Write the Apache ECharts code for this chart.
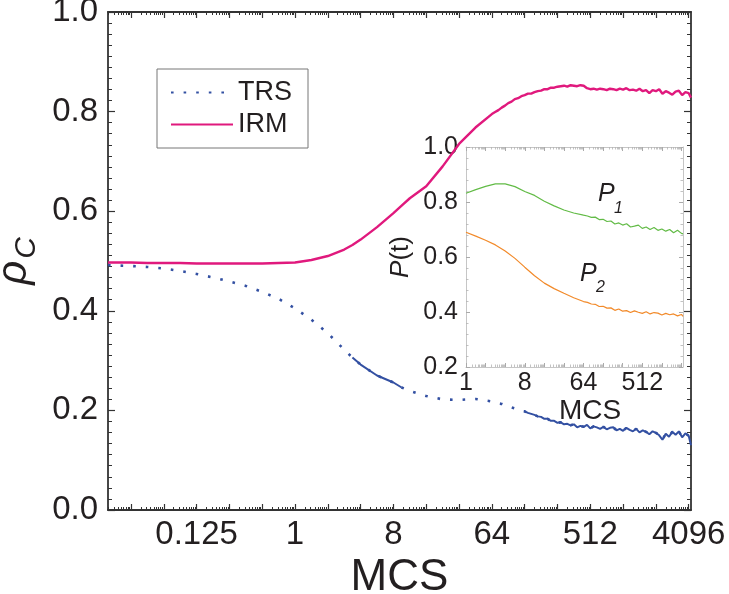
<!DOCTYPE html>
<html><head><meta charset="utf-8">
<script src="https://cdn.jsdelivr.net/npm/echarts@6/dist/echarts.min.js"></script>
<style>html,body{margin:0;padding:0;background:#fff;}#c{width:729px;height:594px;}</style>
</head><body><div id="c"></div>
<script>
// ---------- data ----------
// main panel: MCS given as log2 exponents (MCS = 2^e)
const mainMcsLog2 = [-5.7,-5.5,-5,-4.5,-4,-3.5,-3,-2.5,-2,-1.5,-1,-0.5,0,0.5,1,1.5,1.75,2,2.5,3,3.25,3.5,4,4.5,5,5.5,6,
  6.1,6.2,6.3,6.4,6.5,6.6,6.7,6.8,6.9,7.0,7.1,7.2,7.3,7.4,7.5,7.6,7.7,7.8,7.9,
  8.0,8.1,8.2,8.3,8.4,8.5,8.6,8.7,8.8,8.9,9.0,9.1,9.2,9.3,9.4,9.5,9.6,9.7,9.8,9.9,
  10.0,10.1,10.2,10.3,10.4,10.5,10.6,10.7,10.8,10.9,11.0,11.1,11.2,11.3,11.4,11.5,11.6,11.7,11.8,11.9,12.0,12.07];
const trsValues = [0.492,0.491,0.490,0.488,0.485,0.480,0.474,0.467,0.459,0.450,0.438,0.424,0.405,0.382,0.355,0.322,0.306,0.292,0.270,0.256,0.246,0.239,0.229,0.222,0.221,0.223,0.218,
  0.216,0.214,0.213,0.210,0.209,0.206,0.204,0.202,0.199,0.198,0.195,0.193,0.191,0.188,0.187,0.183,0.183,0.179,0.179,
  0.175,0.176,0.172,0.173,0.170,0.172,0.166,0.169,0.167,0.171,0.164,0.168,0.166,0.163,0.167,0.162,0.165,0.166,0.160,0.163,
  0.159,0.165,0.161,0.158,0.163,0.156,0.160,0.157,0.152,0.158,0.155,0.150,0.141,0.153,0.147,0.157,0.151,0.158,0.146,0.154,0.149,0.130];
const irmValues = [0.497,0.497,0.497,0.496,0.496,0.496,0.495,0.495,0.495,0.495,0.495,0.496,0.497,0.502,0.510,0.523,0.532,0.543,0.568,0.596,0.611,0.626,0.650,0.690,0.735,0.768,0.795,
  0.799,0.803,0.808,0.812,0.817,0.820,0.825,0.827,0.831,0.833,0.836,0.836,0.839,0.841,0.842,0.845,0.845,0.848,0.848,
  0.850,0.851,0.852,0.850,0.853,0.852,0.851,0.853,0.852,0.847,0.845,0.846,0.844,0.846,0.845,0.843,0.846,0.845,0.843,0.846,
  0.844,0.847,0.843,0.844,0.842,0.846,0.841,0.843,0.837,0.843,0.841,0.845,0.836,0.841,0.838,0.834,0.840,0.842,0.833,0.839,0.837,0.828];
// inset: MCS given as log2 exponents
const insetMcsLog2 = [0,0.5,1,1.5,2,2.5,3,3.5,4,4.5,5,5.5,6,
  6.2,6.4,6.6,6.8,7.0,7.2,7.4,7.6,7.8,8.0,8.2,8.4,8.6,8.8,9.0,9.2,9.4,9.6,9.8,10.0,10.2,10.4,10.6,10.8,11.0,11.08];
const p1Values = [0.832,0.845,0.857,0.866,0.866,0.856,0.838,0.824,0.803,0.786,0.771,0.760,0.752,
  0.749,0.744,0.745,0.736,0.737,0.729,0.731,0.720,0.724,0.716,0.721,0.709,0.712,0.716,0.704,0.709,0.700,0.707,0.697,0.702,0.694,0.700,0.688,0.697,0.686,0.684];
const p2Values = [0.690,0.676,0.661,0.644,0.622,0.595,0.563,0.532,0.505,0.485,0.468,0.452,0.438,
  0.435,0.429,0.428,0.420,0.421,0.414,0.415,0.406,0.411,0.403,0.405,0.398,0.404,0.399,0.395,0.401,0.393,0.398,0.396,0.389,0.395,0.390,0.393,0.386,0.391,0.384];
const mainXTickLabels = [0.125, 1, 8, 64, 512, 4096];
const insetXTickLabels = [1, 8, 64, 512];
const seriesNames = ['TRS', 'IRM'];

// ---------- styling / layout ----------
const FONT = "'Liberation Sans', Arial, Helvetica, sans-serif";
const TXT = '#231f20';
const AX = '#333333';
const IAX = '#c6c6c6';
const C_TRS = '#3350a2', C_IRM = '#e0197d', C_P1 = '#62bb46', C_P2 = '#f28a2a';
const MAIN_MIN = Math.pow(2, -5.7), MAIN_MAX = Math.pow(2, 12.07);
const INSET_MIN = 1, INSET_MAX = Math.pow(2, 11.08);

function majors(lo, hi) { const a = []; for (let k = -10; k <= 14; k++) { const v = Math.pow(2, k); if (v >= lo && v <= hi) a.push(v); } return a; }
function minors(lo, hi) { const a = []; for (let k = -10; k <= 14; k++) for (let m = 2; m <= 9; m++) { const v = Math.pow(2, k + Math.log10(m)); if (v > lo && v < hi) a.push(v); } return a; }
const fmtX = v => { const n = Number(v); return n < 1 ? String(+n.toFixed(3)) : String(Math.round(n)); };

function xAxisDef(o) {
  return Object.assign({
    type: 'log', logBase: 2, splitLine: { show: false }, axisPointer: { show: false },
    axisLine: { show: false, onZero: false }, axisLabel: { show: false }, axisTick: { show: false }
  }, o);
}
const pair = (arrX, arrY) => arrX.map((e, i) => [Math.pow(2, e), arrY[i]]);

const mainMaj = majors(MAIN_MIN, MAIN_MAX), mainMin = minors(MAIN_MIN, MAIN_MAX);
const insMaj = majors(INSET_MIN, INSET_MAX), insMin = minors(INSET_MIN, INSET_MAX);

const xAxes = [
  xAxisDef({ gridIndex: 0, position: 'bottom', min: MAIN_MIN, max: MAIN_MAX,
    axisLine: { show: true, onZero: false, lineStyle: { color: AX, width: 1.8 } },
    axisTick: { show: true, inside: true, length: 6, customValues: mainMaj, lineStyle: { color: AX, width: 1.2 } },
    axisLabel: { show: true, customValues: mainXTickLabels, formatter: fmtX, fontSize: 33, margin: 8, color: TXT, fontFamily: FONT },
    name: 'MCS', nameLocation: 'middle', nameGap: 42, nameTextStyle: { fontSize: 44, color: TXT, fontFamily: FONT } }),
  xAxisDef({ gridIndex: 0, position: 'top', min: MAIN_MIN, max: MAIN_MAX,
    axisLine: { show: true, onZero: false, lineStyle: { color: AX, width: 1.8 } },
    axisTick: { show: true, inside: true, length: 6, customValues: mainMaj, lineStyle: { color: AX, width: 1.2 } } }),
  xAxisDef({ gridIndex: 0, position: 'bottom', min: MAIN_MIN, max: MAIN_MAX,
    axisTick: { show: true, inside: true, length: 3, customValues: mainMin, lineStyle: { color: AX, width: 1 } } }),
  xAxisDef({ gridIndex: 0, position: 'top', min: MAIN_MIN, max: MAIN_MAX,
    axisTick: { show: true, inside: true, length: 3, customValues: mainMin, lineStyle: { color: AX, width: 1 } } }),
  xAxisDef({ gridIndex: 1, position: 'bottom', min: INSET_MIN, max: INSET_MAX,
    axisLine: { show: true, onZero: false, lineStyle: { color: IAX, width: 1 } },
    axisTick: { show: true, inside: true, length: 4, customValues: insMaj, lineStyle: { color: '#aaaaaa', width: 1 } },
    axisLabel: { show: true, customValues: insetXTickLabels, formatter: fmtX, fontSize: 25, margin: 4, color: TXT, fontFamily: FONT },
    name: 'MCS', nameLocation: 'middle', nameGap: 27, nameTextStyle: { fontSize: 28, color: TXT, fontFamily: FONT, padding: [0, 0, 0, 31] } }),
  xAxisDef({ gridIndex: 1, position: 'top', min: INSET_MIN, max: INSET_MAX,
    axisLine: { show: true, onZero: false, lineStyle: { color: IAX, width: 1 } },
    axisTick: { show: true, inside: true, length: 4, customValues: insMaj, lineStyle: { color: '#aaaaaa', width: 1 } } }),
  xAxisDef({ gridIndex: 1, position: 'bottom', min: INSET_MIN, max: INSET_MAX,
    axisTick: { show: true, inside: true, length: 2.5, customValues: insMin, lineStyle: { color: '#b4b4b4', width: 0.8 } } }),
  xAxisDef({ gridIndex: 1, position: 'top', min: INSET_MIN, max: INSET_MAX,
    axisTick: { show: true, inside: true, length: 2.5, customValues: insMin, lineStyle: { color: '#b4b4b4', width: 0.8 } } })
];

const yAxes = [
  { type: 'value', gridIndex: 0, position: 'left', min: 0, max: 1, interval: 0.2, splitLine: { show: false },
    axisLine: { show: true, onZero: false, lineStyle: { color: AX, width: 1.8 } },
    axisTick: { show: true, inside: true, length: 7, lineStyle: { color: AX, width: 1.2 } },
    minorTick: { show: true, splitNumber: 9, length: 4, lineStyle: { color: AX, width: 1 } },
    axisLabel: { formatter: v => v.toFixed(1), fontSize: 33, margin: 10, color: TXT, fontFamily: FONT },
    name: '{r|ρ}{s|C}', nameLocation: 'middle', nameRotate: 90, nameGap: 64,
    nameTextStyle: { fontFamily: FONT, color: TXT, rich: {
      r: { fontSize: 42, fontStyle: 'italic', fontFamily: FONT, color: TXT, verticalAlign: 'top', lineHeight: 42 },
      s: { fontSize: 30, fontStyle: 'italic', fontFamily: FONT, color: TXT, verticalAlign: 'top', lineHeight: 30, padding: [18, 0, 0, 2] } } } },
  { type: 'value', gridIndex: 0, position: 'right', min: 0, max: 1, interval: 0.2, splitLine: { show: false },
    axisLine: { show: true, onZero: false, lineStyle: { color: AX, width: 1.8 } },
    axisTick: { show: true, inside: true, length: 7, lineStyle: { color: AX, width: 1.2 } },
    minorTick: { show: true, splitNumber: 9, length: 4, lineStyle: { color: AX, width: 1 } },
    axisLabel: { show: false } },
  { type: 'value', gridIndex: 1, position: 'left', min: 0.2, max: 1.0, interval: 0.2, splitLine: { show: false },
    axisLine: { show: true, onZero: false, lineStyle: { color: IAX, width: 1 } },
    axisTick: { show: true, inside: true, length: 4, lineStyle: { color: '#aaaaaa', width: 1 } },
    minorTick: { show: true, splitNumber: 5, length: 2.5, lineStyle: { color: '#b4b4b4', width: 0.8 } },
    axisLabel: { formatter: v => v.toFixed(1), fontSize: 25, margin: 8, color: TXT, fontFamily: FONT },
    name: '{p|P}{t|(t)}', nameLocation: 'middle', nameRotate: 90, nameGap: 52,
    nameTextStyle: { fontFamily: FONT, color: TXT, rich: {
      p: { fontSize: 26, fontStyle: 'italic', fontFamily: FONT, color: TXT },
      t: { fontSize: 26, fontFamily: FONT, color: TXT } } } },
  { type: 'value', gridIndex: 1, position: 'right', min: 0.2, max: 1.0, interval: 0.2, splitLine: { show: false },
    axisLine: { show: true, onZero: false, lineStyle: { color: IAX, width: 1 } },
    axisTick: { show: true, inside: true, length: 4, lineStyle: { color: '#aaaaaa', width: 1 } },
    minorTick: { show: true, splitNumber: 5, length: 2.5, lineStyle: { color: '#b4b4b4', width: 0.8 } },
    axisLabel: { show: false } }
];

const trsData = pair(mainMcsLog2, trsValues);
const trsSolid = mainMcsLog2.map((e, i) => [Math.pow(2, e), ((e >= 1.75 && e <= 3.25) || e >= 7.0) ? trsValues[i] : null]);

const option = {
  animation: false,
  backgroundColor: '#ffffff',
  grid: [
    { left: 108, top: 12, width: 583, height: 498, containLabel: false, outerBoundsMode: 'none' },
    { left: 466, top: 147, width: 217, height: 220, containLabel: false, outerBoundsMode: 'none' }
  ],
  xAxis: xAxes,
  yAxis: yAxes,
  legend: {
    data: seriesNames.map(n => ({ name: n })),
    orient: 'vertical', left: 157, top: 69,
    padding: [10, 16, 10, 13], itemGap: 5, itemWidth: 62, itemHeight: 14,
    borderColor: '#777777', borderWidth: 1, backgroundColor: '#ffffff',
    itemStyle: { opacity: 0 },
    textStyle: { fontSize: 27, color: TXT, fontFamily: FONT },
    selectedMode: false
  },
  series: [
    { name: 'TRS', type: 'line', xAxisIndex: 0, yAxisIndex: 0, data: trsData, symbol: 'none', showSymbol: false,
      lineStyle: { color: C_TRS, width: 2.6, type: [2.6, 10] }, itemStyle: { color: C_TRS }, z: 3 },
    { name: 'TRS-solid', type: 'line', xAxisIndex: 0, yAxisIndex: 0, data: trsSolid, symbol: 'none', showSymbol: false, connectNulls: false,
      lineStyle: { color: C_TRS, width: 2 }, itemStyle: { color: C_TRS }, z: 3 },
    { name: 'IRM', type: 'line', xAxisIndex: 0, yAxisIndex: 0, data: pair(mainMcsLog2, irmValues), symbol: 'none', showSymbol: false,
      lineStyle: { color: C_IRM, width: 2.4 }, itemStyle: { color: C_IRM }, z: 3 },
    { name: 'P1', type: 'line', xAxisIndex: 4, yAxisIndex: 2, data: pair(insetMcsLog2, p1Values), symbol: 'none', showSymbol: false,
      lineStyle: { color: C_P1, width: 1.2 }, itemStyle: { color: C_P1 }, z: 4 },
    { name: 'P2', type: 'line', xAxisIndex: 4, yAxisIndex: 2, data: pair(insetMcsLog2, p2Values), symbol: 'none', showSymbol: false,
      lineStyle: { color: C_P2, width: 1.2 }, itemStyle: { color: C_P2 }, z: 4 }
  ],
  graphic: [
    { type: 'text', left: 598, top: 182, z: 10, style: { text: 'P', fontSize: 25, fontStyle: 'italic', fontFamily: FONT, fill: TXT } },
    { type: 'text', left: 614, top: 201, z: 10, style: { text: '1', fontSize: 16, fontStyle: 'italic', fontFamily: FONT, fill: TXT } },
    { type: 'text', left: 580, top: 262, z: 10, style: { text: 'P', fontSize: 25, fontStyle: 'italic', fontFamily: FONT, fill: TXT } },
    { type: 'text', left: 596, top: 280, z: 10, style: { text: '2', fontSize: 16, fontStyle: 'italic', fontFamily: FONT, fill: TXT } }
  ]
};

const chart = echarts.init(document.getElementById('c'), null, { renderer: 'canvas' });
chart.setOption(option);
</script>
</body></html>
